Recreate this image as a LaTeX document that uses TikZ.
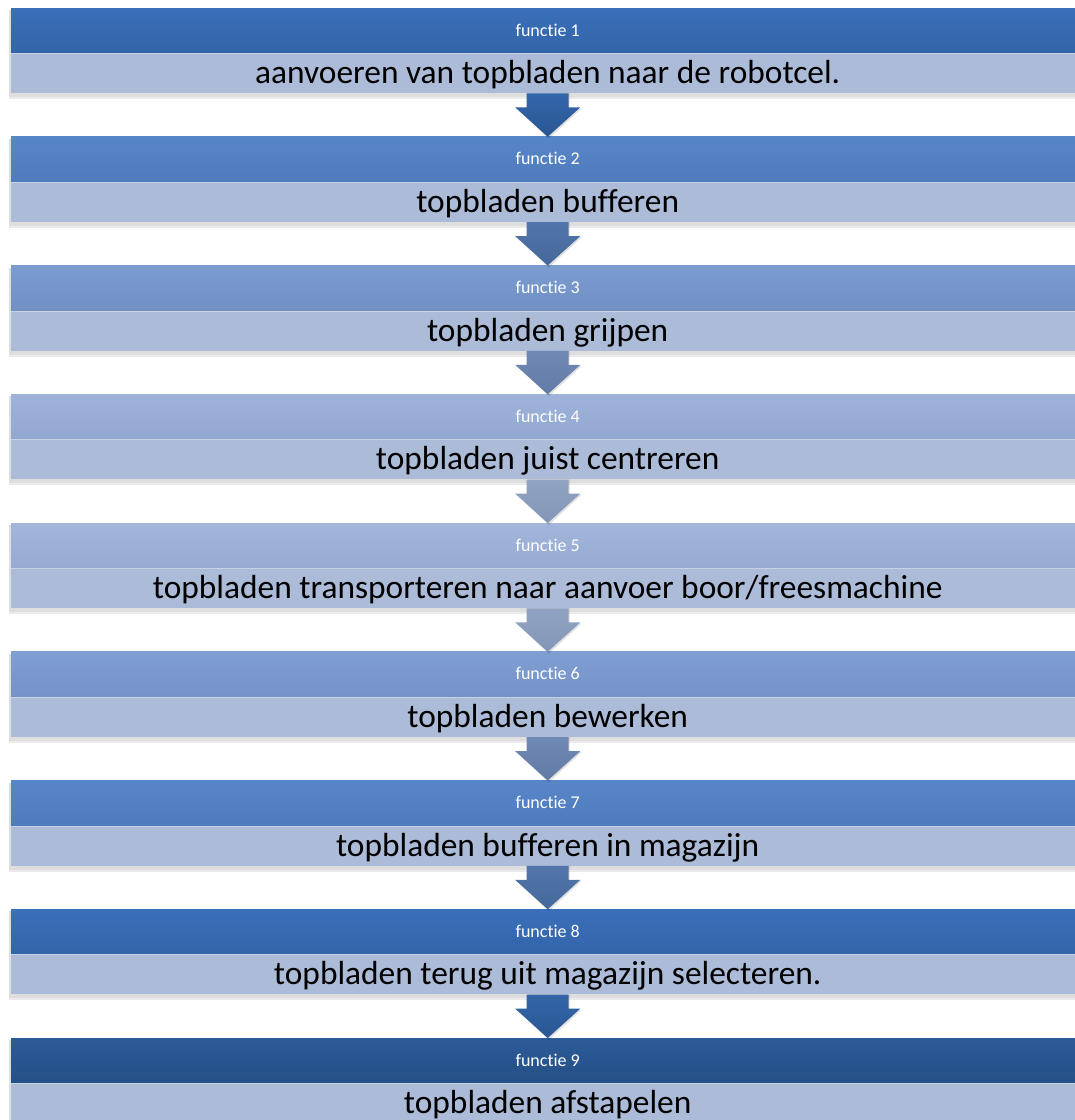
\documentclass[tikz,border=0pt]{standalone}
\usepackage{fontspec}
\setmainfont{Carlito}[Ligatures=NoCommon]
\usetikzlibrary{calc}
\definecolor{bodyc}{HTML}{ACBBD8}
\tikzset{
  hdr/.style={rectangle, anchor=north west, minimum width=1073pt, minimum height=45pt, inner sep=0pt, text=white, font=\fontsize{18}{20}\selectfont, text height=13pt, text depth=2pt},
  bdy/.style={rectangle, anchor=north west, minimum width=1073pt, minimum height=40pt, inner sep=0pt, fill=bodyc, text=black, font=\fontsize{33.4}{36}\selectfont, text height=23pt, text depth=2pt},
  shad/.style={fill=black, opacity=0.13},
}
\begin{document}
\begin{tikzpicture}[x=1pt,y=1pt]
\clip (0,0) rectangle (1075,-1120);
\fill[white] (0,0) rectangle (1075,-1120);
\foreach \i/\hcT/\hcB/\txt in {
  1/3A70BA/3264A8/{aanvoeren van topbladen naar de robotcel.},
  2/5786C8/4F7BBC/{topbladen bufferen},
  3/7B9CCF/7090C4/{topbladen grijpen},
  4/9EB3DA/93A8D0/{topbladen juist centreren},
  5/A2B5DB/97AAD1/{topbladen transporteren naar aanvoer boor/freesmachine},
  6/7F9ED1/7492C6/{topbladen bewerken},
  7/5786C8/4F7BBC/{topbladen bufferen in magazijn},
  8/3A70BA/3264A8/{topbladen terug uit magazijn selecteren.},
  9/2C5B98/254F86/{topbladen afstapelen}}{
  \pgfmathsetmacro{\yy}{8+(\i-1)*128.75}
  \definecolor{tA}{HTML}{\hcT}
  \definecolor{tB}{HTML}{\hcB}
  \fill[shad] (9,-\yy-2) rectangle (1084,-\yy-89);
  \fill[black,opacity=0.08] (9,-\yy-89) rectangle (1084,-\yy-91);
  \node[hdr, top color=tA, bottom color=tB] (h\i) at (11,-\yy) {functie \i};
  \node[bdy] (b\i) at (11,-\yy-45) {\txt};
  \draw[white, opacity=0.35, line width=0.8pt] (h\i.south west) -- (h\i.south east);
}
\foreach \i/\acT/\acB in {1/3366A8/2A5694, 2/5276AC/456899, 3/7089B5/627BA5, 4/90A3C3/8396B7,
  5/90A3C3/8396B7, 6/7089B5/627BA5, 7/5276AC/456899, 8/3366A8/2A5694}{
  \pgfmathtruncatemacro{\j}{\i+1}
  \definecolor{aA}{HTML}{\acT}
  \definecolor{aB}{HTML}{\acB}
  \fill[black, opacity=0.12] ($(b\i.south)+(-20,0)$) -- ($(b\i.south)+(22,0)$) -- ($(b\i.south)+(22,-15)$) -- ($(b\i.south)+(34,-15)$) -- ($(h\j.north)+(1,-2)$) -- ($(b\i.south)+(-31,-15)$) -- ($(b\i.south)+(-20,-15)$) -- cycle;
  \shade[top color=aA, bottom color=aB] ($(b\i.south)+(-21,0)$) -- ($(b\i.south)+(21,0)$) -- ($(b\i.south)+(21,-14)$) -- ($(b\i.south)+(32.5,-14)$) -- (h\j.north) -- ($(b\i.south)+(-32.5,-14)$) -- ($(b\i.south)+(-21,-14)$) -- cycle;
}
\end{tikzpicture}
\end{document}
